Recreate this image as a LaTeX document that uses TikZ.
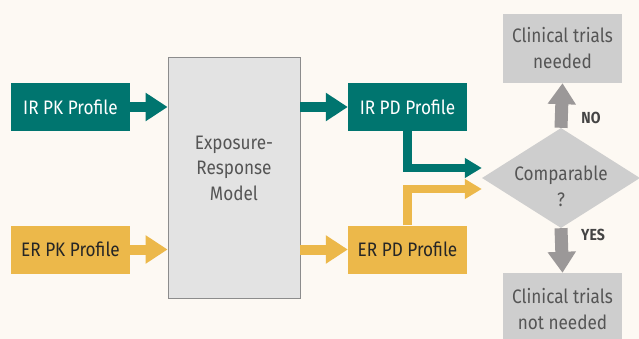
\documentclass[tikz,border=0pt]{standalone}
\usepackage{fontspec}
\setmainfont{Fira Sans}[FakeStretch=0.88]
\usetikzlibrary{arrows.meta,shapes.geometric}
\definecolor{bg}{HTML}{FDF9F3}
\definecolor{irteal}{HTML}{00756F}
\definecolor{eryel}{HTML}{ECB84A}
\definecolor{boxgray}{HTML}{CECECE}
\definecolor{modelgray}{HTML}{E3E3E3}
\definecolor{modelline}{HTML}{8C8C8C}
\definecolor{arrgray}{HTML}{9B9898}
\definecolor{txtgray}{HTML}{555555}
\definecolor{lblgray}{HTML}{444444}
\begin{document}
\begin{tikzpicture}[x=1pt,y=-1pt,
  prof/.style={minimum width=119pt, minimum height=48pt, inner sep=0pt, font=\fontsize{19.5}{25}\selectfont},
  outbox/.style={fill=boxgray, text=txtgray, inner sep=0pt, minimum width=119pt, align=center, font=\fontsize{19.5}{26}\selectfont},
  fat/.style={line width=10pt, -{Triangle[width=27pt,length=22pt]}},
  elbow/.style={line width=8.5pt, line join=miter, -{Triangle[width=19pt,length=17pt]}},
  grayarr/.style={line width=13pt, arrgray, -{Triangle[width=27pt,length=21pt]}},
  lbl/.style={font=\fontsize{16}{18}\selectfont\bfseries, text=lblgray}
]
\fill[bg] (0,0) rectangle (639,339);
\useasboundingbox (0,0) rectangle (639,339);
\clip (0,0) rectangle (639,339);

\node[prof, fill=irteal, text=white] (irpk) at (70.5,107) {IR PK Profile};
\node[prof, fill=eryel, text=black!85] (erpk) at (70.5,249.5) {ER PK Profile};
\node[draw=modelline, line width=0.8pt, fill=modelgray, minimum width=132pt, minimum height=241pt, inner sep=0pt] (model) at (234,177.5) {};
\node[text=txtgray, align=center, font=\fontsize{19.5}{25.5}\selectfont] (modeltxt) at (234,168) {Exposure-\\Response\\Model};
\node[prof, fill=irteal, text=white] (irpd) at (407.5,107) {IR PD Profile};
\node[prof, fill=eryel, text=black!85] (erpd) at (407.5,249.5) {ER PD Profile};
\node[diamond, fill=boxgray, minimum width=158pt, minimum height=100pt, inner sep=0pt, aspect=1.58] (dia) at (561,178) {};
\node[text=txtgray, align=center, font=\fontsize{19.5}{26}\selectfont] (diatxt) at (561,186) {Comparable\\?};
\node[outbox, minimum height=69pt] (need) at (562.5,48.5) {Clinical trials\\needed};
\node[outbox, minimum height=73pt] (noneed) at (562.5,309.5) {Clinical trials\\not needed};

\draw[fat, irteal] (irpk.east) -- (model.west |- irpk.east);
\draw[fat, eryel] (erpk.east) -- (model.west |- erpk.east);
\draw[fat, irteal] (model.east |- irpd.west) -- (irpd.west);
\draw[fat, eryel] (model.east |- erpd.west) -- (erpd.west);
\draw[elbow, irteal] (irpd.south) |- ([yshift=10pt]dia.west);
\draw[elbow, eryel] (erpd.north) |- ([yshift=-11pt]dia.west);
\draw[grayarr] (dia.north) -- (need.south);
\draw[grayarr] (dia.south) -- (noneed.north);
\node[lbl] (no) at (591,118) {NO};
\node[lbl] (yes) at (593,235) {YES};
\end{tikzpicture}
\end{document}
